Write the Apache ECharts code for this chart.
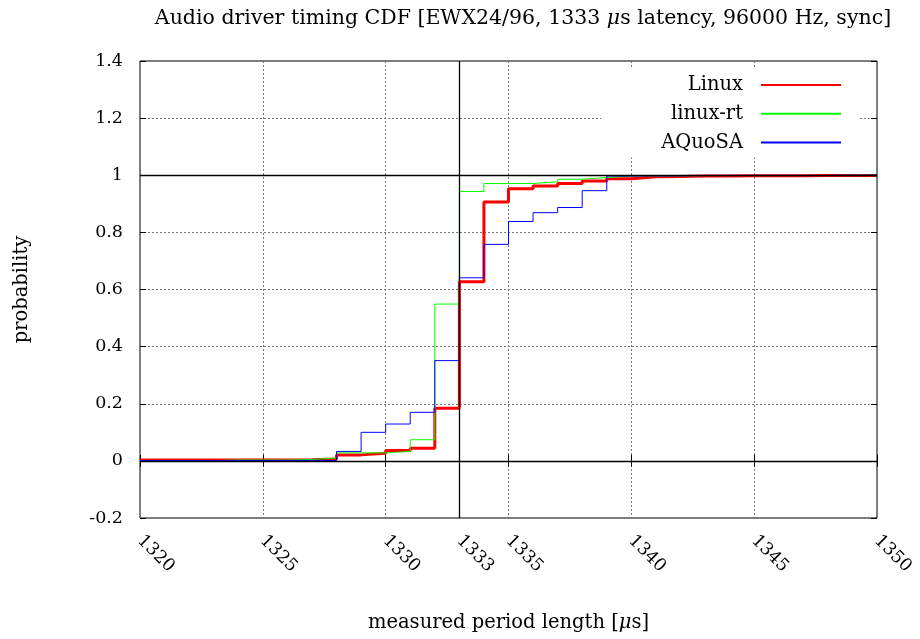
<!DOCTYPE html>
<html><head><meta charset="utf-8">
<script src="https://cdn.jsdelivr.net/npm/echarts@6/dist/echarts.min.js"></script>
<style>html,body{margin:0;padding:0;background:#fff}#c{width:920px;height:639px}</style>
</head><body><div id="c"></div>
<script>
const periods = [1320,1321,1322,1323,1324,1325,1326,1327,1328,1329,1330,1331,1332,1333,1334,1335,1336,1337,1338,1339,1340,1341,1342,1343,1344,1345,1346,1347,1348,1349,1350];
const linux   = [0.003,0.003,0.003,0.003,0.003,0.003,0.004,0.007,0.021,0.027,0.036,0.044,0.184,0.627,0.906,0.953,0.962,0.971,0.980,0.988,0.995,0.996,0.997,0.997,0.998,0.998,0.998,0.999,0.999,0.999,0.999];
const linuxRt = [0.001,0.001,0.001,0.003,0.003,0.003,0.005,0.010,0.028,0.028,0.033,0.074,0.549,0.943,0.971,0.971,0.977,0.986,0.992,0.997,0.998,0.998,0.999,0.999,0.999,0.999,0.999,0.999,1.000,1.000,1.000];
const aquosa  = [0.001,0.001,0.001,0.001,0.001,0.001,0.002,0.001,0.033,0.100,0.129,0.170,0.351,0.641,0.758,0.838,0.869,0.887,0.946,0.997,0.998,0.998,0.999,0.999,0.999,0.999,0.999,0.999,1.000,1.000,1.000];
const xTicks = [1320,1325,1330,1333,1335,1340,1345,1350];
const seriesNames = ['Linux','linux-rt','AQuoSA'];
const refLinesY = [0, 1];
const refLineX = 1333;

const FONT = 'DejaVu Serif';
const FS = 19.5;   // text
const FST = 20.5;  // title
const FSN = 17.5;  // numbers
const grid = {left:140, top:61, right:43, bottom:121, show:true, borderColor:'#000', borderWidth:1, backgroundColor:'transparent'};
const dotted = {color:'#777', width:1, type:[2,2]};

const chart = echarts.init(document.getElementById('c'), null, {renderer:'canvas'});
const pair = arr => periods.map((p,i)=>[p, arr[i]]);

chart.setOption({
  animation:false,
  backgroundColor:'#fff',
  title:{
    text:'{n|Audio driver timing CDF [EWX24/96, 1333 }{i|μ}{n|s latency, 96000 Hz, sync]}',
    left:523, top:8, textAlign:'center', padding:0,
    textStyle:{rich:{
      n:{fontFamily:FONT, fontSize:FST, color:'#000', fontWeight:'normal'},
      i:{fontFamily:FONT, fontSize:FST, color:'#000', fontStyle:'italic', fontWeight:'normal'}
    }}
  },
  grid: grid,
  legend:{
    orient:'vertical', align:'right', right:62, top:67,
    itemWidth:80, itemHeight:14, itemGap:8.8,
    padding:[8,16,5,60], backgroundColor:'#fff',
    itemStyle:{color:'transparent', borderColor:'transparent', borderWidth:0},
    textStyle:{fontFamily:FONT, fontSize:FS, color:'#000', padding:[0,13,0,0]},
    data:seriesNames
  },
  xAxis:[{
    type:'value', min:1320, max:1350, interval:5, position:'bottom',
    axisLine:{show:false},
    axisTick:{show:true, inside:true, length:6, lineStyle:{color:'#000'}, customValues:xTicks},
    axisLabel:{show:true, customValues:xTicks, rotate:-45, margin:20, fontFamily:FONT, fontSize:FSN, color:'#000', formatter:v=>String(v)},
    splitLine:{show:true, lineStyle:dotted},
    name:'{n|measured period length [}{i|μ}{n|s]}', nameLocation:'middle', nameGap:95,
    nameTextStyle:{rich:{
      n:{fontFamily:FONT, fontSize:FS, color:'#000'},
      i:{fontFamily:FONT, fontSize:FS, color:'#000', fontStyle:'italic'}
    }}
  },{
    type:'value', min:1320, max:1350, interval:5, position:'top', z:10,
    axisLine:{show:false},
    axisTick:{show:true, inside:true, length:6, lineStyle:{color:'#000'}, customValues:xTicks},
    axisLabel:{show:false}, splitLine:{show:false}
  }],
  yAxis:[{
    type:'value', min:-0.2, max:1.4, interval:0.2, position:'left',
    axisLine:{show:false},
    axisTick:{show:true, inside:true, length:6, lineStyle:{color:'#000'}},
    axisLabel:{margin:17, fontFamily:FONT, fontSize:FSN, color:'#000'},
    splitLine:{show:true, lineStyle:dotted},
    name:'probability', nameLocation:'middle', nameGap:108,
    nameTextStyle:{fontFamily:FONT, fontSize:FS, color:'#000'}
  },{
    type:'value', min:-0.2, max:1.4, interval:0.2, position:'right', z:10,
    axisLine:{show:false},
    axisTick:{show:true, inside:true, length:6, lineStyle:{color:'#000'}},
    axisLabel:{show:false}, splitLine:{show:false}
  }],
  series:[
    {name:'Linux', type:'line', step:'end', symbol:'none', data:pair(linux), lineStyle:{color:'#ff0000', width:3}, itemStyle:{color:'#ff0000'}, z:2},
    {name:'linux-rt', type:'line', step:'end', symbol:'none', data:pair(linuxRt), lineStyle:{color:'#00ff00', width:1}, itemStyle:{color:'#00ff00'}, z:3},
    {name:'AQuoSA', type:'line', step:'end', symbol:'none', data:pair(aquosa), lineStyle:{color:'#0000ff', width:1}, itemStyle:{color:'#0000ff'}, z:4},
    {name:'ref', type:'line', data:[], z:6,
      markLine:{silent:true, symbol:'none', label:{show:false}, animation:false,
        lineStyle:{color:'#000', type:'solid', width:1.3},
        data: refLinesY.map(v=>({yAxis:v})).concat([{xAxis:refLineX}])}}
  ]
});
</script></body></html>
